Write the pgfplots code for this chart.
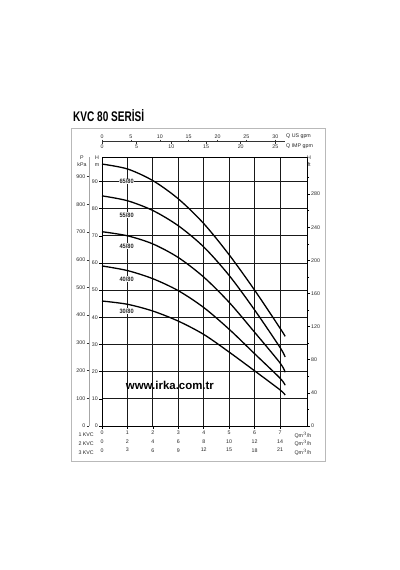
\documentclass[border=0pt]{standalone}
\usepackage{pgfplots}
\pgfplotsset{compat=1.18}
\usepackage{fontspec}
\setmainfont{Liberation Sans}
\pgfplotsset{/pgf/number format/assume math mode=true,
  every tick label/.append style={font=\fontsize{5.3}{6}\selectfont, text=black!85}}
\begin{document}
\begin{tikzpicture}
\useasboundingbox (0,0) rectangle (400bp,570bp);
\fill[white] (0,0) rectangle (400bp,570bp);
% outer frame
\draw[gray!55, line width=0.9bp] (71bp,109bp) rectangle (325bp,442bp);
% title
\node[anchor=west, inner sep=0pt] at (73bp,454bp) {\scalebox{0.72}[1]{\fontsize{14}{14}\selectfont\bfseries KVC 80 SERİSİ}};

% main axis
\begin{axis}[
  at={(102bp,144bp)}, anchor=south west,
  scale only axis, width=205bp, height=269bp,
  xmin=0, xmax=8.06, ymin=0, ymax=99,
  xtick={0,...,7},
  xticklabels={{0\\0\\0},{1\\2\\3},{2\\4\\6},{3\\6\\9},{4\\8\\12},{5\\10\\15},{6\\12\\18},{7\\14\\21}},
  xticklabel style={align=center, font=\fontsize{5.3}{8.7}\selectfont, inner sep=1bp, yshift=-0.8bp},
  ytick={0,10,...,90},
  yticklabel style={inner sep=1bp},
  xtick pos=bottom, ytick pos=left,
  tick align=outside, major tick length=3bp,
  grid=major, grid style={black!90, line width=0.9bp},
  axis line style={black, line width=0.9bp},
  tick style={black, line width=0.5bp},
  clip=false,
]
\addplot[black, line width=1.3bp, smooth] coordinates {(0,96.4)(1,94.6)(2,90.3)(3,83.6)(4,74.5)(5,63)(6,50)(7,36)(7.2,33)};
\addplot[black, line width=1.3bp, smooth] coordinates {(0,84.7)(1,82.9)(2,79.3)(3,73.7)(4,65.9)(5,55.4)(6,42.7)(7,28.9)(7.2,25.4)};
\addplot[black, line width=1.3bp, smooth] coordinates {(0,71.5)(1,70)(2,67)(3,62)(4,54.8)(5,45.5)(6,34.5)(7,23.2)(7.2,19.8)};
\addplot[black, line width=1.3bp, smooth] coordinates {(0,58.9)(1,57.2)(2,54.2)(3,49.8)(4,43.6)(5,35.6)(6,26.6)(7,17.6)(7.2,15)};
\addplot[black, line width=1.3bp, smooth] coordinates {(0,46)(1,44.8)(2,42.3)(3,38.6)(4,33.7)(5,27.2)(6,20.3)(7,13.3)(7.2,11.4)};
\tikzset{cl/.style={fill=white, inner sep=0.6bp, font=\fontsize{6.3}{7}\selectfont\bfseries, text=black!85}}
\node[cl] at (axis cs:0.97,90) {\scalebox{0.9}[1]{65/80}};
\node[cl] at (axis cs:0.97,77.5) {\scalebox{0.9}[1]{55/80}};
\node[cl] at (axis cs:0.97,66.2) {\scalebox{0.9}[1]{45/80}};
\node[cl] at (axis cs:0.97,54) {\scalebox{0.9}[1]{40/80}};
\node[cl] at (axis cs:0.97,42.3) {\scalebox{0.9}[1]{30/80}};
\node[font=\fontsize{11.5}{12}\selectfont\bfseries] at (axis cs:2.67,15) {www.irka.com.tr};
\end{axis}

% ft axis (right)
\begin{axis}[
  at={(102bp,144bp)}, anchor=south west,
  scale only axis, width=205bp, height=269bp,
  xmin=0, xmax=8.06, ymin=0, ymax=324.8,
  axis x line=none, axis y line*=right,
  ytick={0,40,...,280}, minor ytick={20,60,...,300},
  yticklabel style={inner sep=1bp},
  tick align=outside, major tick length=3bp, minor tick length=2bp,
  axis line style={black, line width=0.9bp},
  tick style={black, line width=0.5bp},
]
\addplot[draw=none] coordinates {(0,0)};
\end{axis}

% P axis (left, kPa)
\begin{axis}[
  at={(89bp,144bp)}, anchor=south west,
  scale only axis, width=1bp, height=269bp,
  xmin=0, xmax=1, ymin=0, ymax=970.9,
  axis x line=none, axis y line*=left,
  ytick={0,100,...,900},
  yticklabel style={inner sep=1bp},
  tick align=outside, major tick length=2.5bp,
  axis line style={gray!70, line width=0.9bp},
  tick style={black!80, line width=0.5bp},
]
\addplot[draw=none] coordinates {(0,0)};
\end{axis}

% top US gpm axis
\begin{axis}[
  at={(102bp,428.3bp)}, anchor=north west,
  scale only axis, width=183bp, height=1bp,
  xmin=0, xmax=31.68, ymin=0, ymax=1,
  axis y line=none, axis x line*=top,
  xtick={0,5,...,30},
  xticklabel style={inner sep=0.8bp},
  tick align=outside, major tick length=2bp,
  axis line style={black!80, line width=0.7bp},
  tick style={black!80, line width=0.5bp},
]
\addplot[draw=none] coordinates {(0,0)};
\end{axis}

% top IMP gpm axis
\begin{axis}[
  at={(102bp,428.3bp)}, anchor=south west,
  scale only axis, width=183bp, height=1bp,
  xmin=0, xmax=26.38, ymin=0, ymax=1,
  axis y line=none, axis x line*=bottom,
  xtick={0,5,...,25},
  xticklabel style={inner sep=0.8bp},
  tick align=outside, major tick length=2bp,
  axis line style={black!80, line width=0.7bp},
  tick style={black!80, line width=0.5bp},
]
\addplot[draw=none] coordinates {(0,0)};
\end{axis}

% texts
\tikzset{sm/.style={font=\fontsize{5.3}{6}\selectfont, text=black!85, inner sep=0pt}}
\node[sm, anchor=west] at (286bp,433.3bp) {Q US gpm};
\node[sm, anchor=west] at (286bp,423.3bp) {Q IMP gpm};
\node[sm] at (82bp,412bp) {P};
\node[sm] at (82bp,405bp) {kPa};
\node[sm] at (97bp,412bp) {H};
\node[sm] at (97bp,405bp) {m};
\node[sm] at (309bp,412bp) {H};
\node[sm] at (309bp,405bp) {ft};
\node[sm, anchor=east] at (94bp,135bp) {1 KVC};
\node[sm, anchor=east] at (94bp,126.7bp) {2 KVC};
\node[sm, anchor=east] at (94bp,117.7bp) {3 KVC};
\node[sm] at (303bp,135bp) {Qm$^3$/h};
\node[sm] at (303bp,126.7bp) {Qm$^3$/h};
\node[sm] at (303bp,117.7bp) {Qm$^3$/h};
\end{tikzpicture}
\end{document}
